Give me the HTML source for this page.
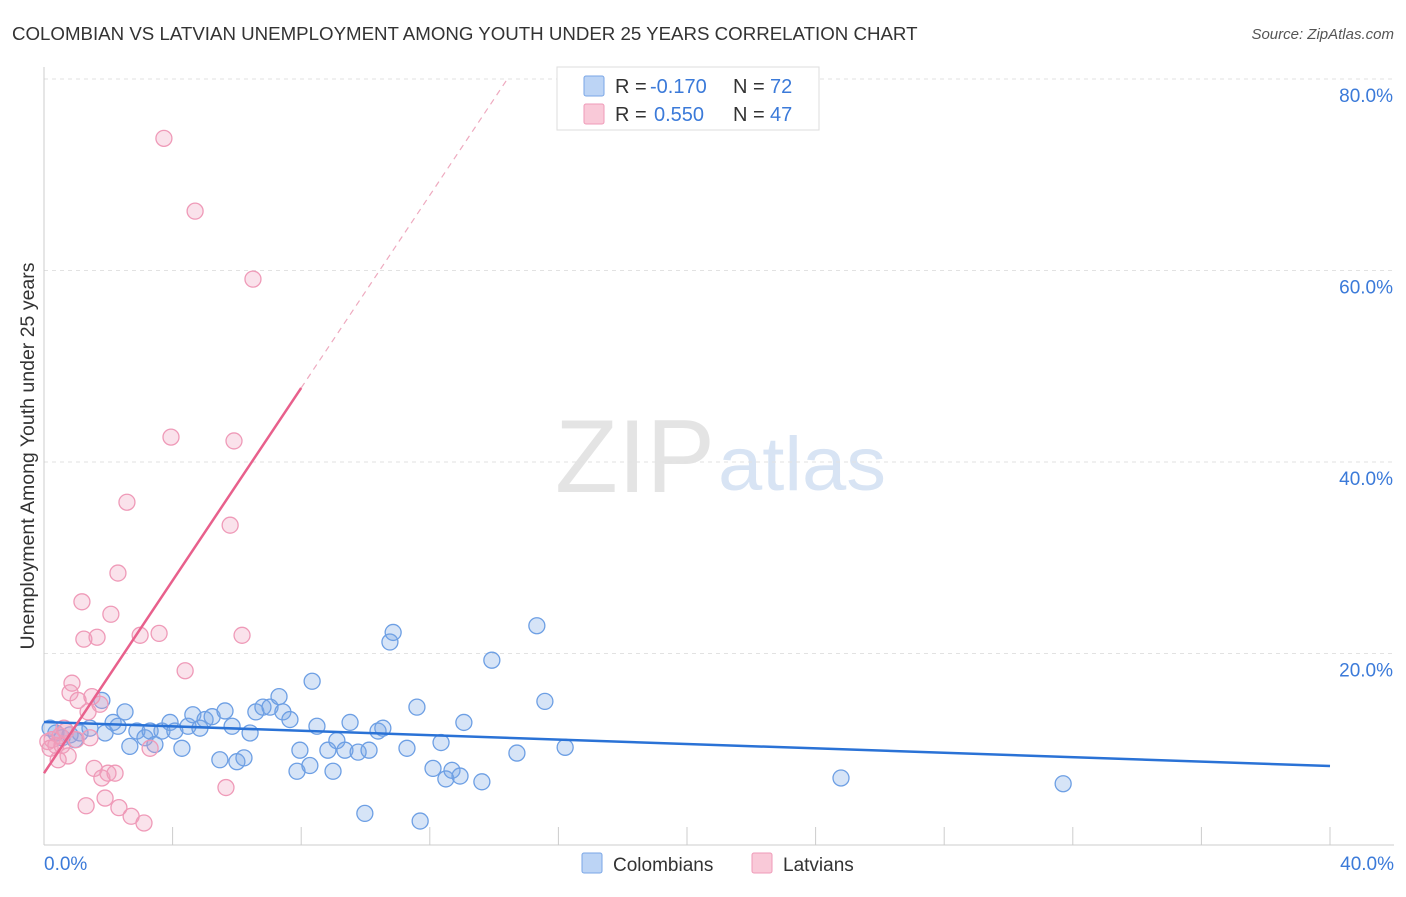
<!DOCTYPE html>
<html><head><meta charset="utf-8"><style>
body{margin:0;background:#fff;font-family:"Liberation Sans",sans-serif;}
svg text{font-family:"Liberation Sans",sans-serif;}
</style></head><body>
<svg id="chart" width="1406" height="892">
<text x="12" y="40" font-size="18.7" fill="#333">COLOMBIAN VS LATVIAN UNEMPLOYMENT AMONG YOUTH UNDER 25 YEARS CORRELATION CHART</text>
<text x="1394" y="39" font-size="15" fill="#555" font-style="italic" text-anchor="end">Source: ZipAtlas.com</text>
<text x="555" y="492" font-size="104" fill="#e4e4e4" font-family="Liberation Serif" textLength="160" lengthAdjust="spacingAndGlyphs">ZIP</text>
<text x="718" y="490" font-size="76" fill="#d8e4f4" textLength="168" lengthAdjust="spacingAndGlyphs">atlas</text>
<g id="grid"></g>
<g id="axes"></g>
<g id="marks"></g>
<text transform="translate(34,456) rotate(-90)" font-size="19.5" fill="#333" text-anchor="middle">Unemployment Among Youth under 25 years</text>
<g>
<rect x="557" y="67" width="262" height="63" fill="#fff" stroke="#ddd"/>
<rect x="584" y="76" width="20" height="20" fill="#bcd4f5" stroke="#7aa6e6" rx="2"/>
<rect x="584" y="104" width="20" height="20" fill="#f9c9d8" stroke="#ef9ab8" rx="2"/>
<text x="615" y="93" font-size="20" fill="#333">R =</text>
<text x="650" y="93" font-size="20" fill="#3b7ad9">-0.170</text>
<text x="733" y="93" font-size="20" fill="#333">N =</text>
<text x="770" y="93" font-size="20" fill="#3b7ad9">72</text>
<text x="615" y="121" font-size="20" fill="#333">R =</text>
<text x="654" y="121" font-size="20" fill="#3b7ad9">0.550</text>
<text x="733" y="121" font-size="20" fill="#333">N =</text>
<text x="770" y="121" font-size="20" fill="#3b7ad9">47</text>
</g>
<g>
<rect x="582" y="853" width="20" height="20" fill="#bcd4f5" stroke="#7aa6e6" rx="2"/>
<text x="613" y="871" font-size="19" fill="#333">Colombians</text>
<rect x="752" y="853" width="20" height="20" fill="#f9c9d8" stroke="#ef9ab8" rx="2"/>
<text x="783" y="871" font-size="19" fill="#333">Latvians</text>
</g>
</svg>
<script>
const xTicks=[0,4,8,12,16,20,24,28,32,36,40];
const yTicks=[20,40,60,80];
const yTickLabels=["20.0%","40.0%","60.0%","80.0%"];
const blueX=[0.19,0.37,0.56,0.81,0.96,1.12,1.43,1.80,1.90,2.15,2.30,2.52,2.67,2.89,3.14,3.30,3.45,3.67,3.92,4.07,4.29,4.48,4.63,4.85,5.01,5.23,5.47,5.63,5.85,6.00,6.22,6.41,6.59,6.81,7.03,7.31,7.43,7.65,7.87,7.96,8.27,8.34,8.49,8.83,8.99,9.11,9.36,9.52,9.77,9.98,10.11,10.39,10.54,10.76,10.86,11.29,11.60,11.70,12.10,12.35,12.50,12.69,12.94,13.06,13.62,13.93,14.71,15.33,15.58,16.21,24.79,31.70];
const blueY=[12.2,11.7,11.2,11.5,11.0,11.7,12.2,15.1,11.7,12.8,12.4,13.9,10.3,11.9,11.2,11.9,10.5,11.9,12.8,11.9,10.1,12.4,13.6,12.2,13.1,13.4,8.9,14.0,12.4,8.7,9.1,11.7,13.9,14.4,14.4,15.5,13.9,13.1,7.7,9.9,8.3,17.1,12.4,9.9,7.7,10.9,9.9,12.8,9.7,3.3,9.9,11.9,12.2,21.2,22.2,10.1,14.4,2.5,8.0,10.7,6.9,7.8,7.2,12.8,6.6,19.3,9.6,22.9,15.0,10.2,7.0,6.4];
const pinkX=[0.12,0.25,0.37,0.50,0.62,0.75,0.81,0.87,1.00,1.06,1.18,1.24,1.31,1.43,1.49,1.56,1.65,1.74,1.80,1.90,1.99,2.08,2.21,2.30,2.33,2.58,2.71,2.99,3.11,3.30,3.58,3.73,3.95,4.39,4.70,5.66,5.79,5.91,6.16,6.50,0.44,0.19,0.68,1.37,0.56];
const pinkY=[10.8,11.0,10.4,11.4,12.2,9.3,15.9,16.9,11.0,15.1,25.4,21.5,4.1,11.2,15.5,8.0,21.7,14.7,7.0,4.9,7.5,24.1,7.5,28.4,3.9,35.8,3.0,21.9,2.3,10.1,22.1,73.8,42.6,18.2,66.2,6.0,33.4,42.2,21.9,59.1,8.9,10.1,11.9,13.9,10.4];
const blueTrend=[12.85,8.25];
const pinkTrend=[7.5,5.03];
const NS="http://www.w3.org/2000/svg";
const X=v=>44+v*32.15, Y=v=>845-v*9.575;
function mk(t,a,p){const e=document.createElementNS(NS,t);for(const k in a)e.setAttribute(k,a[k]);p.appendChild(e);return e;}
const grid=document.getElementById('grid'),axes=document.getElementById('axes'),marks=document.getElementById('marks');
yTicks.forEach((t,i)=>{
 const l=mk('line',{x1:44,x2:1394,y1:Y(t),y2:Y(t),stroke:'#e2e2e2','stroke-dasharray':'4,4'},grid);
 
 
 const tx=mk('text',{x:1393,y:Y(t)+23,'font-size':19,fill:'#3b7ad9','text-anchor':'end'},axes);
 tx.textContent=yTickLabels[i];
 
 
});
const xl=mk('line',{x1:44,x2:1394,y1:845,y2:845,stroke:'#ccc'},axes);


const yl=mk('line',{x1:44,x2:44,y1:67,y2:845,stroke:'#ccc'},axes);


xTicks.forEach(t=>{const l=mk('line',{x1:X(t),x2:X(t),y1:827,y2:845,stroke:'#ccc'},axes);
 
 });
[[0,"0.0%","start",44],[40,"40.0%","end",1394]].forEach(d=>{const t=mk('text',{x:d[3],y:870,'font-size':19,fill:'#3b7ad9','text-anchor':d[2]},axes);t.textContent=d[1];
 
 });
blueX.forEach((x,i)=>{const c=mk('circle',{cx:X(x),cy:Y(blueY[i]),r:8,fill:'rgba(120,165,230,0.3)',stroke:'#6d9fe4','stroke-width':1.3},marks);
 
 });
pinkX.forEach((x,i)=>{const c=mk('circle',{cx:X(x),cy:Y(pinkY[i]),r:8,fill:'rgba(240,160,190,0.3)',stroke:'#ef9ab8','stroke-width':1.3},marks);
 
 });
const bl=mk('line',{x1:X(0),y1:Y(blueTrend[0]),x2:X(40),y2:Y(blueTrend[1]),stroke:'#2a72d6','stroke-width':2.5},marks);


const pEnd=8, pDash=(80-pinkTrend[0])/pinkTrend[1];
const pl=mk('line',{x1:X(0),y1:Y(pinkTrend[0]),x2:X(pEnd),y2:Y(pinkTrend[0]+pinkTrend[1]*pEnd),stroke:'#e8608c','stroke-width':2.5},marks);


const pd=mk('line',{x1:X(pEnd),y1:Y(pinkTrend[0]+pinkTrend[1]*pEnd),x2:X(pDash),y2:Y(80),stroke:'#eeaabf','stroke-width':1.2,'stroke-dasharray':'6,5'},marks);


</script>
</body></html>
